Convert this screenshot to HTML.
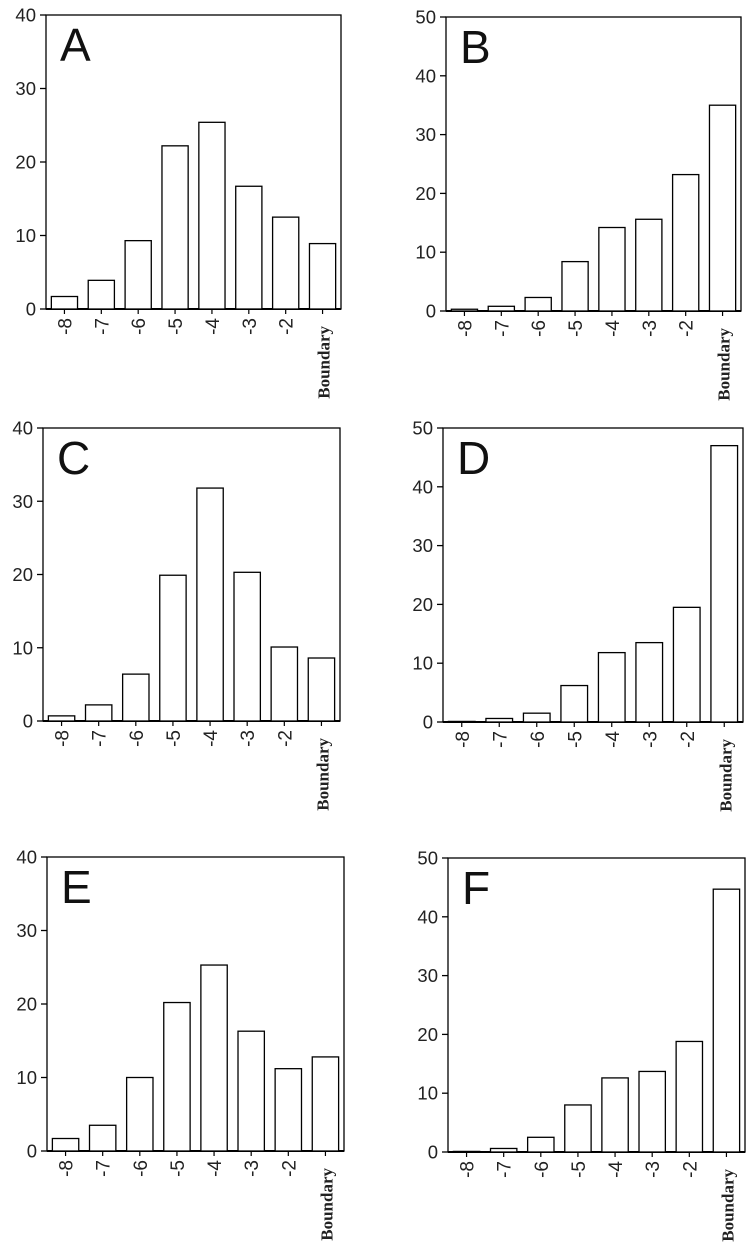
<!DOCTYPE html>
<html><head><meta charset="utf-8"><style>
body{margin:0;background:#fff}
svg{display:block}
</style></head><body>
<svg id="fig" width="753" height="1260" xmlns="http://www.w3.org/2000/svg"></svg>
<script>
const categories = ["-8","-7","-6","-5","-4","-3","-2","Boundary"];
const valuesA = [1.7, 3.9, 9.3, 22.2, 25.4, 16.7, 12.5, 8.9];
const valuesB = [0.3, 0.8, 2.3, 8.4, 14.2, 15.6, 23.2, 35];
const valuesC = [0.7, 2.2, 6.4, 19.9, 31.8, 20.3, 10.1, 8.6];
const valuesD = [0.1, 0.6, 1.5, 6.2, 11.8, 13.5, 19.5, 47];
const valuesE = [1.7, 3.5, 10.0, 20.2, 25.3, 16.3, 11.2, 12.8];
const valuesF = [0.1, 0.6, 2.5, 8.0, 12.6, 13.7, 18.8, 44.7];
const ticks40 = [0, 10, 20, 30, 40];
const ticks50 = [0, 10, 20, 30, 40, 50];

const panels = [
  {id:"A", vals:valuesA, ticks:ticks40, max:40, l:46, r:341, t:15, b:309},
  {id:"B", vals:valuesB, ticks:ticks50, max:50, l:446, r:741, t:17, b:311},
  {id:"C", vals:valuesC, ticks:ticks40, max:40, l:43, r:340, t:428, b:721},
  {id:"D", vals:valuesD, ticks:ticks50, max:50, l:443, r:743, t:428, b:722},
  {id:"E", vals:valuesE, ticks:ticks40, max:40, l:47, r:344, t:857, b:1151},
  {id:"F", vals:valuesF, ticks:ticks50, max:50, l:448, r:745, t:858, b:1152}
];
const NS = "http://www.w3.org/2000/svg";
const svg = document.getElementById("fig");
function mk(tag, attrs, parent){
  const e = document.createElementNS(NS, tag);
  for (const k in attrs) e.setAttribute(k, attrs[k]);
  parent.appendChild(e);
  return e;
}
panels.forEach(p => {
  const g = mk("g", {}, svg);
  
  
  const y = v => p.b - (v / p.max) * (p.b - p.t);
  const band = (p.r - p.l) / categories.length;
  const x = i => p.l + band * (i + 0.5);
  const bw = band * 0.71;
  const fr = mk("rect", {x:p.l, y:p.t, width:p.r-p.l, height:p.b-p.t, fill:"none", stroke:"#000", "stroke-width":1.3}, g);
  
  
  const bl = mk("line", {x1:p.l, x2:p.r, y1:p.b, y2:p.b, stroke:"#000", "stroke-width":2}, g);
  
  
  p.ticks.forEach(t => {
    const ln = mk("line", {x1:p.l-6, x2:p.l, y1:y(t), y2:y(t), stroke:"#000", "stroke-width":1.3}, g);
    
    
    const tx = mk("text", {x:p.l-10, y:y(t)+6.5, "text-anchor":"end", "font-family":"Liberation Sans, sans-serif", "font-size":18.5, fill:"#222"}, g);
    tx.textContent = t;
    
    
  });
  p.vals.forEach((v, i) => {
    const r = mk("rect", {x:x(i)-bw/2, y:y(v), width:bw, height:p.b-y(v), fill:"#fff", stroke:"#000", "stroke-width":1.3}, g);
    
    
    const tk = mk("line", {x1:x(i), x2:x(i), y1:p.b, y2:p.b+5, stroke:"#000", "stroke-width":1.2}, g);
    
    
    const isB = categories[i] === "Boundary";
    const lx = x(i) + 7, ly = p.b + (isB ? 17 : 9);
    const tx = mk("text", {x:lx, y:ly, transform:"rotate(-90 "+lx+" "+ly+")", "text-anchor":"end",
      "font-family": isB ? "Liberation Serif, serif" : "Liberation Sans, sans-serif",
      "font-size": isB ? 17 : 19, "font-weight": isB ? "bold" : "normal", fill:"#222"}, g);
    tx.textContent = categories[i];
    
    
  });
  const lt = mk("text", {x:p.l+14, y:p.t+46, "font-family":"Liberation Sans, sans-serif", "font-size":46, fill:"#111"}, g);
  lt.textContent = p.id;
  
  
});
</script>
</body></html>
